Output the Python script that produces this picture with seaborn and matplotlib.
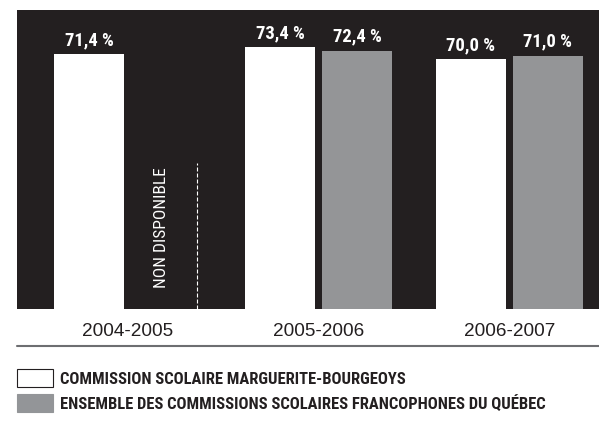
import numpy as np
import pandas as pd
import matplotlib
matplotlib.use("Agg")
import matplotlib.pyplot as plt
import seaborn as sns
from matplotlib.patches import Patch
from matplotlib.lines import Line2D
from matplotlib import font_manager
from matplotlib.font_manager import FontProperties

# ---- data ----
years = ["2004-2005", "2005-2006", "2006-2007"]
csmb = [71.4, 73.4, 70.0]
quebec = [np.nan, 72.4, 71.0]
series = ["COMMISSION SCOLAIRE MARGUERITE-BOURGEOYS",
          "ENSEMBLE DES COMMISSIONS SCOLAIRES FRANCOPHONES DU QUÉBEC"]
missing_label = "NON DISPONIBLE"

BLACK = "#231f20"
GREY = "#939598"
colors = ["#ffffff", GREY]

sns.set_theme(style="white")
plt.rcParams["font.family"] = ["Liberation Sans", "DejaVu Sans"]


def pick_condensed():
    fl = font_manager.fontManager.ttflist
    names = {f.name for f in fl}
    for pref in ["Liberation Sans Narrow", "Roboto Condensed",
                 "Open Sans Condensed", "Noto Sans Condensed"]:
        if pref in names:
            return pref, "normal"
    for f in fl:
        if "Narrow" in f.name or "Condensed" in f.name:
            return f.name, "normal"
    for f in fl:
        st = f.stretch
        if st in ("condensed", "semi-condensed", "extra-condensed") or \
                (isinstance(st, int) and st < 500):
            if f.name in ("Noto Sans", "DejaVu Sans", "Roboto", "Open Sans"):
                return f.name, st
    return "Roboto" if "Roboto" in names else "DejaVu Sans", "normal"


cond_family, cond_stretch = pick_condensed()


def cprop(size, weight="normal"):
    return FontProperties(family=[cond_family, "DejaVu Sans"],
                          stretch=cond_stretch, weight=weight, size=size)


df = pd.DataFrame({
    "year": years * 2,
    "value": csmb + quebec,
    "series": [series[0]] * 3 + [series[1]] * 3,
})

fig = plt.figure(figsize=(5.99, 4.21), dpi=100)
fig.patch.set_facecolor("white")
renderer = fig.canvas.get_renderer()


def fit_size(text, weight, target_px, base=12.0):
    t = fig.text(0, 0, text, fontproperties=cprop(base, weight))
    w = t.get_window_extent(renderer=renderer).width
    t.remove()
    return base * target_px / w


ax = fig.add_axes([17 / 599, (421 - 309) / 421, 582 / 599, 299 / 421])
ax.set_facecolor(BLACK)

width = 0.806
sns.barplot(data=df, x="year", y="value", hue="series", order=years,
            hue_order=series, palette=colors, width=width, gap=0.09,
            dodge=True, linewidth=0, legend=False, ax=ax)

ax.set_xlim(-0.5785, 2.4686)
ax.set_ylim(0, 83.8)
for s in ax.spines.values():
    s.set_visible(False)
ax.set_yticks([])
ax.set_xlabel("")
ax.set_ylabel("")
ax.tick_params(axis="x", length=0, pad=10, labelsize=13.7, labelcolor=BLACK)
for lab in ax.get_xticklabels():
    lab.set_family(["Liberation Sans", "DejaVu Sans"])

val_size = fit_size("71,4 %", "bold", 49)
for cont in ax.containers:
    labels = []
    for b in cont:
        h = b.get_height()
        labels.append("" if np.isnan(h) else f"{h:.1f}".replace(".", ",") + " %")
    ax.bar_label(cont, labels=labels, padding=3.5, color="white",
                 fontproperties=cprop(val_size, "bold"))

# missing value annotation for the first group
nd_size = fit_size(missing_label, "normal", 120)
ax.text(0.18, 22.7, missing_label, rotation=90, ha="center", va="center",
        color="white", fontproperties=cprop(nd_size))
ax.plot([0.365, 0.365], [0, 40.9], color="white", lw=0.8,
        linestyle=(0, (3.6, 1.8)))

# separator line
fig.add_artist(Line2D([17 / 599, 1.0], [1 - 346 / 421, 1 - 346 / 421],
                      color="#6d6e71", lw=1.5, transform=fig.transFigure))

leg_size = min(fit_size(series[0], "bold", 345), fit_size(series[1], "bold", 518))
fs_px = leg_size * 100 / 72
handles = [Patch(facecolor="#ffffff", edgecolor=BLACK, linewidth=0.8),
           Patch(facecolor=GREY, edgecolor=GREY, linewidth=0.8)]
fig.legend(handles=handles, labels=series, loc="upper left",
           bbox_to_anchor=(17 / 599, 1 - 369 / 421), frameon=False,
           borderpad=0, borderaxespad=0, handlelength=36 / fs_px,
           handleheight=22 / fs_px, handletextpad=7 / fs_px,
           labelspacing=6.5 / fs_px,
           prop=cprop(leg_size, "bold"), labelcolor=BLACK)

fig.savefig("out.png", dpi=100, facecolor="white")
